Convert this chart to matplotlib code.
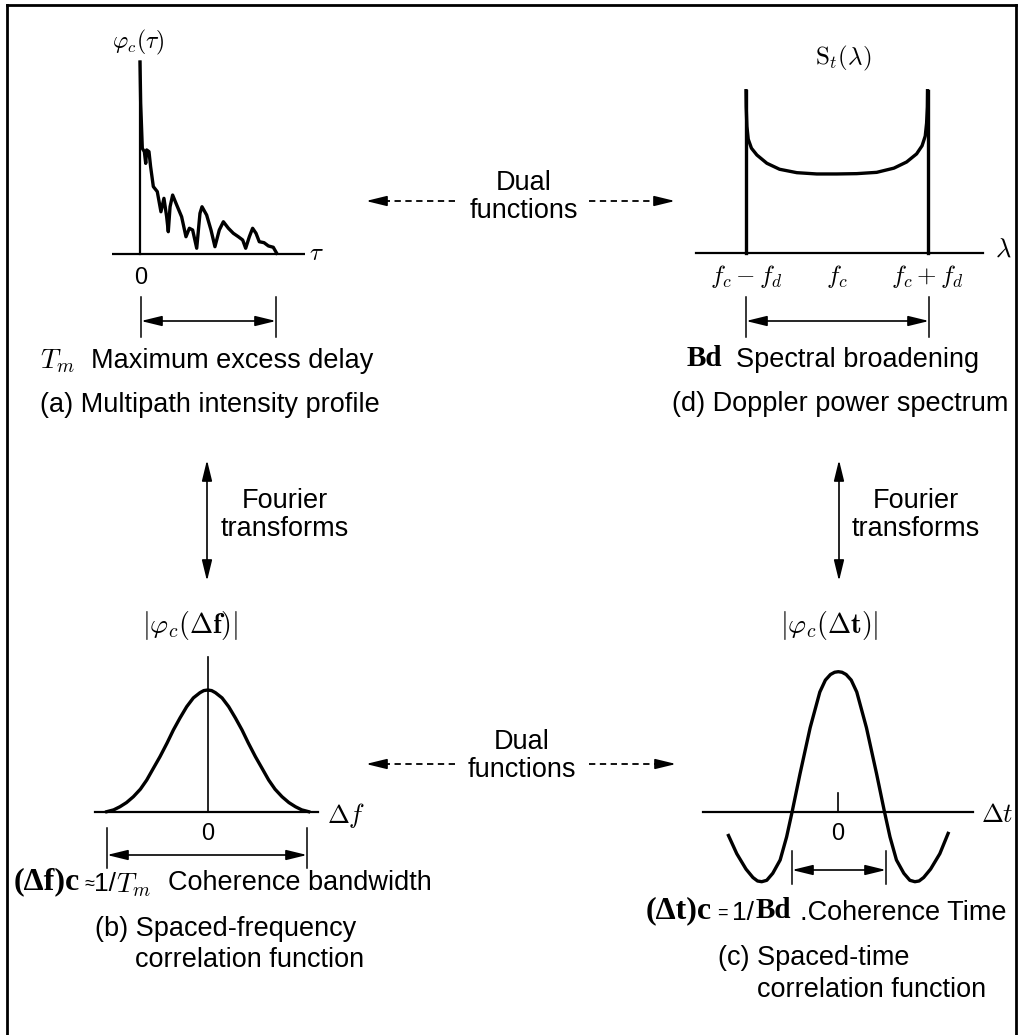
import matplotlib
matplotlib.use("Agg")
import matplotlib.pyplot as plt

plt.rcParams['mathtext.fontset'] = 'cm'
plt.rcParams['font.family'] = ['Liberation Sans', 'DejaVu Sans']

W, H = 1021, 1035

# ---------------- data ----------------
# (a) multipath intensity profile: delay tau (T_m = 1), intensity (peak = 1)
tau_a = [0.0, 0.005, 0.017, 0.032, 0.042, 0.049, 0.066, 0.078, 0.098, 0.127,
         0.154, 0.176, 0.196, 0.208, 0.221, 0.240, 0.270, 0.306, 0.338, 0.363,
         0.387, 0.417, 0.441, 0.456, 0.490, 0.522, 0.551, 0.583, 0.613, 0.650,
         0.686, 0.723, 0.755, 0.777, 0.804, 0.828, 0.853, 0.877, 0.912, 0.944,
         0.980, 1.005]
phi_a = [1.0, 0.785, 0.55, 0.533, 0.472, 0.542, 0.533, 0.455, 0.351, 0.325,
         0.220, 0.290, 0.194, 0.116, 0.246, 0.307, 0.255, 0.194, 0.090, 0.134,
         0.125, 0.030, 0.212, 0.246, 0.203, 0.125, 0.038, 0.125, 0.168, 0.134,
         0.108, 0.090, 0.073, 0.030, 0.090, 0.134, 0.108, 0.064, 0.059, 0.042,
         0.035, 0.004]

# (d) Doppler power spectrum: (lambda - fc)/fd, level (peak = 1)
lam_d = [-1.0, -0.998, -0.99, -0.975, -0.94, -0.88, -0.77, -0.63, -0.44, -0.22,
         0.0, 0.22, 0.44, 0.63, 0.77, 0.88, 0.94, 0.975, 0.99, 0.998, 1.0]
S_d = [1.0, 0.90, 0.78, 0.70, 0.645, 0.603, 0.552, 0.515, 0.494, 0.486,
       0.486, 0.488, 0.496, 0.522, 0.560, 0.610, 0.660, 0.72, 0.80, 0.90, 1.0]

# (b) spaced-frequency correlation: delta f (half span = 1), level (peak = 1)
df_b = [-1.02, -0.95, -0.886, -0.82, -0.751, -0.68, -0.616, -0.55, -0.482, -0.41,
        -0.347, -0.28, -0.212, -0.145, -0.078, -0.04, 0.0, 0.04, 0.078, 0.145,
        0.212, 0.28, 0.347, 0.41, 0.482, 0.55, 0.616, 0.68, 0.751, 0.82, 0.886,
        0.95, 1.02]
g_b = [0.0, 0.015, 0.041, 0.075, 0.123, 0.185, 0.260, 0.355, 0.452, 0.565,
       0.671, 0.77, 0.863, 0.935, 0.978, 0.995, 1.0, 0.995, 0.978, 0.935,
       0.863, 0.77, 0.671, 0.565, 0.452, 0.355, 0.260, 0.185, 0.123, 0.075,
       0.041, 0.015, 0.0]

# (c) spaced-time correlation: delta t (zero crossing = 1), level (peak = 1)
dt_c = [-2.38, -2.2, -2.0, -1.85, -1.75, -1.66, -1.55, -1.42, -1.26, -1.12, -1.0,
        -0.83, -0.61, -0.40, -0.28, -0.17, -0.08, 0.0, 0.08, 0.17, 0.28, 0.40,
        0.61, 0.83, 1.0, 1.12, 1.26, 1.42, 1.55, 1.66, 1.75, 1.85, 2.0, 2.2, 2.38]
a_c = [-0.17, -0.30, -0.41, -0.47, -0.495, -0.5, -0.49, -0.44, -0.345, -0.18, 0.0,
       0.27, 0.60, 0.855, 0.94, 0.98, 0.996, 1.0, 0.996, 0.98, 0.94, 0.855,
       0.60, 0.27, 0.0, -0.18, -0.345, -0.44, -0.49, -0.5, -0.495, -0.47, -0.41,
       -0.30, -0.155]

fd_labels = [r'$f_c - f_d$', r'$f_c$', r'$f_c + f_d$']
fd_positions = [-1.0, 0.0, 1.0]

# ---------------- figure ----------------
fig = plt.figure(figsize=(W / 100, H / 100), dpi=100)
bg = fig.add_axes([0, 0, 1, 1])
bg.set_xlim(0, W)
bg.set_ylim(H, 0)
bg.axis('off')


def panel(px_l, px_r, px_t, px_b, ox, sx, oy, sy):
    ax = fig.add_axes([px_l / W, 1 - px_b / H, (px_r - px_l) / W, (px_b - px_t) / H])
    ax.set_xlim((px_l - ox) / sx, (px_r - ox) / sx)
    ax.set_ylim((oy - px_b) / sy, (oy - px_t) / sy)
    ax.axis('off')
    ax.patch.set_alpha(0)
    return ax


K = 'black'
CURVE_LW = 2.4
AX_LW = 1.6

# (a)
axa = panel(90, 340, 20, 270, 140, 136, 254, 192)
axa.plot([-0.206, 1.213], [0, 0], color=K, lw=AX_LW, solid_capstyle='butt')
axa.plot([0, 0], [0, 1.0], color=K, lw=AX_LW)
axa.plot(tau_a, phi_a, color=K, lw=CURVE_LW, solid_joinstyle='round')

# (d)
axd = panel(680, 1010, 40, 270, 836.75, 90.75, 252.7, 162)
axd.plot([-1.551, 1.608], [0, 0], color=K, lw=AX_LW)
axd.plot([-1, -1], [0, 1.0], color=K, lw=CURVE_LW)
axd.plot([1, 1], [0, 1.0], color=K, lw=CURVE_LW)
axd.plot(lam_d, S_d, color=K, lw=CURVE_LW, solid_joinstyle='round')

# (b)
axb = panel(80, 360, 640, 830, 207.7, 99, 811.7, 121.7)
axb.plot([-1.138, 1.117], [0, 0], color=K, lw=AX_LW)
axb.plot([0, 0], [0, 1.274], color=K, lw=1.2)
axb.plot(df_b, g_b, color=K, lw=CURVE_LW, solid_joinstyle='round')

# (c)
axc = panel(690, 990, 650, 900, 838.3, 46.15, 811.7, 140)
axc.plot([-2.925, 2.925], [0, 0], color=K, lw=AX_LW)
axc.plot([0, 0], [0, 0.131], color=K, lw=1.2)
axc.plot(dt_c, a_c, color=K, lw=CURVE_LW, solid_joinstyle='round')

# ---------------- border ----------------
bg.plot([7, 7], [H, 5], color=K, lw=2)
bg.plot([7, 1016], [5, 5], color=K, lw=2)
bg.plot([1016, 1016], [5, H], color=K, lw=2)

# ---------------- helpers ----------------
FS = 19.5
SERIF = ['Liberation Serif', 'DejaVu Serif']


def dim(x1, x2, y, ytop, ybot):
    bg.plot([x1, x1], [ytop, ybot], color=K, lw=1.1)
    bg.plot([x2, x2], [ytop, ybot], color=K, lw=1.1)
    bg.annotate('', xy=(x2, y), xytext=(x1, y),
                arrowprops=dict(arrowstyle='<|-|>,head_length=0.9,head_width=0.22',
                                color=K, lw=1.2, shrinkA=0, shrinkB=0, mutation_scale=14))


def vfourier(x, y1, y2):
    bg.annotate('', xy=(x, y2), xytext=(x, y1),
                arrowprops=dict(arrowstyle='<|-|>,head_length=0.9,head_width=0.22',
                                color=K, lw=1.2, shrinkA=0, shrinkB=0, mutation_scale=14))


def dashed(x_from, x_to, y):
    sgn = 1 if x_to > x_from else -1
    bg.plot([x_from, x_to - sgn * 12], [y, y], color=K, lw=1.3, ls=(0, (3.5, 2.5)))
    bg.annotate('', xy=(x_to, y), xytext=(x_to - sgn * 14, y),
                arrowprops=dict(arrowstyle='-|>,head_length=0.9,head_width=0.22',
                                color=K, lw=1.2, shrinkA=0, shrinkB=0, mutation_scale=14))


def txt(x, y, s, size=FS, ha='center', **kw):
    bg.text(x, y, s, fontsize=size, ha=ha, va='center', color=K, **kw)


# ---------------- panel (a) texts ----------------
txt(138, 42, r'$\varphi_c(\tau)$', size=17)
txt(316, 253, r'$\tau$', size=18)
txt(141, 278, '0', size=17)
dim(141, 276, 321, 297, 337)
txt(40, 361, r'$T_m$', size=20, ha='left')
txt(91, 361, 'Maximum excess delay', ha='left')
txt(210, 405, '(a) Multipath intensity profile')

# ---------------- panel (d) texts ----------------
txt(843, 58, r'$\mathrm{S}_t(\lambda)$', size=18)
txt(1003, 250, r'$\lambda$', size=19)
for p, lab in zip(fd_positions, fd_labels):
    txt(836.75 + 90.75 * p, 276, lab, size=18)
dim(746, 929, 321, 297, 337)
txt(687, 358, 'Bd', size=21, ha='left', family=SERIF, weight='bold')
txt(736, 360, 'Spectral broadening', ha='left')
txt(840, 404, '(d) Doppler power spectrum')

# ---------------- dual functions (top) ----------------
txt(524, 183, 'Dual')
txt(524, 211, 'functions')
dashed(455, 366, 201)
dashed(589, 675, 201)

# ---------------- Fourier transforms ----------------
vfourier(207, 460, 581)
txt(285, 501, 'Fourier')
txt(285, 529, 'transforms')
vfourier(839, 460, 581)
txt(916, 501, 'Fourier')
txt(916, 529, 'transforms')

# ---------------- panel (b) texts ----------------
txt(190, 626, r'$\left|\varphi_c(\Delta\mathbf{f})\right|$', size=20)
txt(346, 816, r'$\Delta f$', size=19)
txt(208, 834, '0', size=17)
dim(107, 307, 855, 828, 868)
txt(14, 882, '(Δf)c', size=23, ha='left', family=SERIF, weight='bold')
txt(84, 884, '≈', size=13, ha='left')
txt(94, 884, '1/', size=19, ha='left')
txt(116, 885, r'$T_m$', size=20, ha='left')
txt(168, 883, 'Coherence bandwidth', ha='left')
txt(95, 929, '(b) Spaced-frequency', ha='left')
txt(135, 960, 'correlation function', ha='left')

# ---------------- dual functions (bottom) ----------------
txt(522, 742, 'Dual')
txt(522, 770, 'functions')
dashed(455, 366, 764)
dashed(589, 676, 764)

# ---------------- panel (c) texts ----------------
txt(829, 626, r'$\left|\varphi_c(\Delta\mathbf{t})\right|$', size=20)
txt(997, 815, r'$\Delta t$', size=19)
txt(838, 834, '0', size=17)
dim(792, 886, 870, 851, 884)
txt(646, 911, '(Δt)c', size=23, ha='left', family=SERIF, weight='bold')
txt(717, 913, '=', size=13, ha='left')
txt(732, 913, '1/', size=19, ha='left')
txt(756, 911, 'Bd', size=21, ha='left', family=SERIF, weight='bold')
txt(800, 913, '.Coherence Time', ha='left')
txt(718, 958, '(c) Spaced-time', ha='left')
txt(757, 990, 'correlation function', ha='left')

fig.savefig('out.png', dpi=100, facecolor='white')
